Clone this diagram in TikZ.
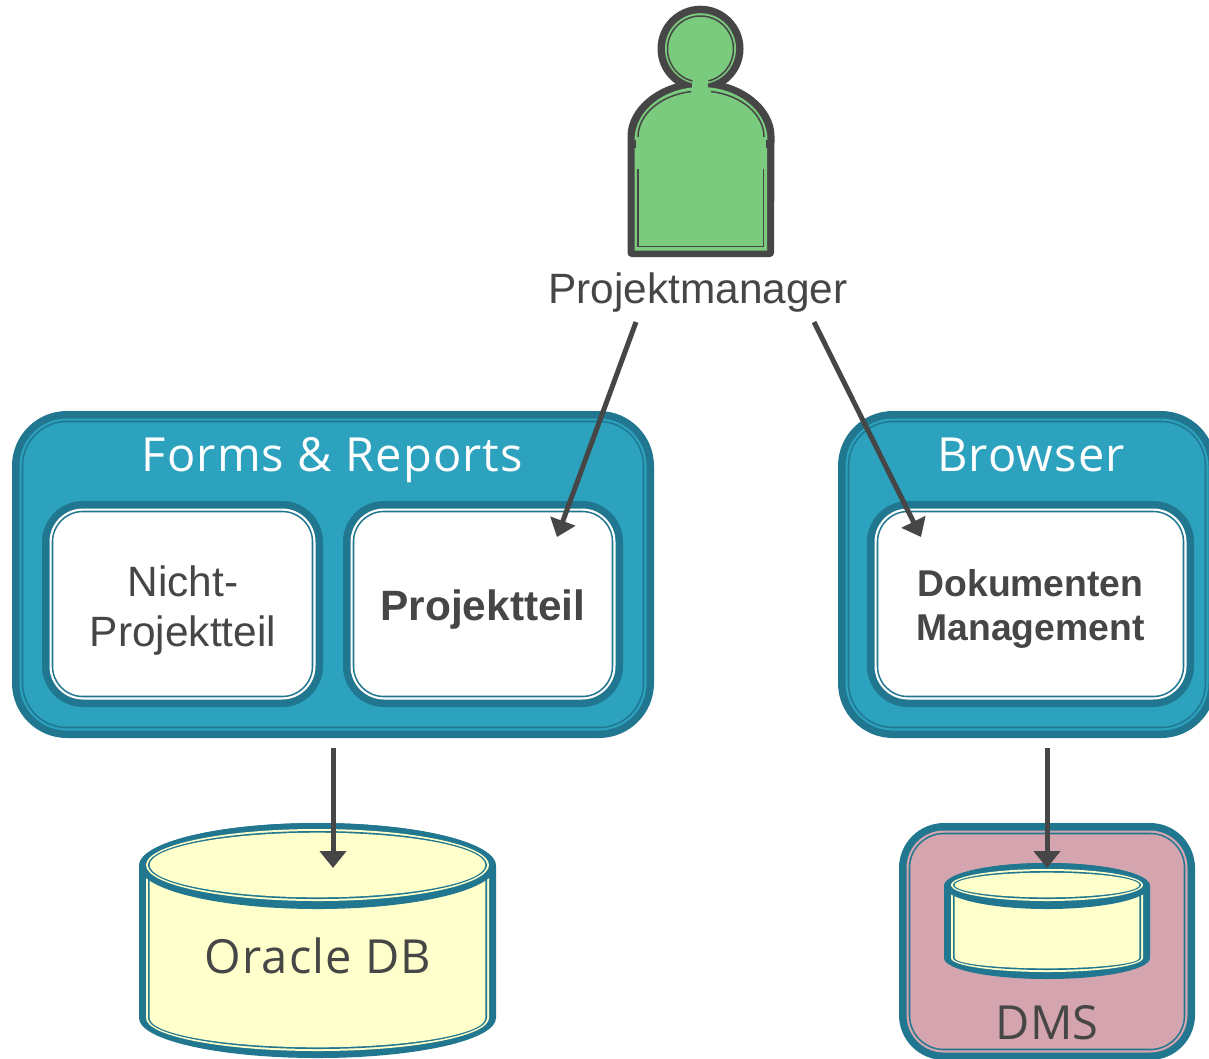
\documentclass[tikz,border=0pt]{standalone}
\usepackage{fontspec}
\setmainfont{Liberation Sans}
\newfontfamily\lucidaish{Open Sans}
\newfontfamily\lucidawide[LetterSpace=2.4]{Open Sans}
\usetikzlibrary{arrows.meta}
\definecolor{tealfill}{HTML}{2CA2BF}
\definecolor{tealdark}{HTML}{20778F}
\definecolor{inkgrey}{HTML}{464646}
\definecolor{persongreen}{HTML}{7ACB7D}
\definecolor{dmspink}{HTML}{D4A5AF}
\definecolor{dbyellow}{HTML}{FFFFCC}
\tikzset{
  conn/.style={draw=inkgrey,line width=5pt,-{Triangle[width=26pt,length=17pt]}},
  arial/.style={text=inkgrey,font=\fontsize{42.4}{50}\selectfont,align=center,inner sep=0pt},
  arialbold/.style={text=inkgrey,font=\fontsize{37.3}{44}\selectfont\bfseries,align=center,inner sep=0pt},
  lucida/.style={font=\lucidaish\fontsize{47}{54}\selectfont,inner sep=0pt,anchor=base},
  lucidawide/.style={font=\lucidawide\fontsize{47}{54}\selectfont,inner sep=0pt,anchor=base},
}
% one inset layer of a rounded box: x1 y1 x2 y2 r inset colour
\newcommand\boxlayer[7]{%
  \pgfmathsetmacro\bxa{#1+#6}\pgfmathsetmacro\bya{#2+#6}%
  \pgfmathsetmacro\bxb{#3-#6}\pgfmathsetmacro\byb{#4-#6}%
  \pgfmathsetmacro\brr{max(#5-#6,1)}%
  \fill[#7,rounded corners=\brr pt] (\bxa,\bya) rectangle (\bxb,\byb);}
\newcommand\layeredbox[8]{% x1 y1 x2 y2 r dark gap fill
  \boxlayer{#1}{#2}{#3}{#4}{#5}{0}{#6}%
  \boxlayer{#1}{#2}{#3}{#4}{#5}{7.5}{#7}%
  \boxlayer{#1}{#2}{#3}{#4}{#5}{9.7}{#6}%
  \boxlayer{#1}{#2}{#3}{#4}{#5}{11.3}{#8}}
% one inset layer of a cylinder: x1 x2 cy ry by bry inset colour
\newcommand\cyllayer[8]{%
  \pgfmathsetmacro\cxa{#1+#7}\pgfmathsetmacro\cxb{#2-#7}%
  \pgfmathsetmacro\crx{(#2-#1)/2-#7}%
  \pgfmathsetmacro\cry{#4-#7}\pgfmathsetmacro\cbry{#6-#7}%
  \fill[#8] (\cxa,#3) -- (\cxa,#5) arc[start angle=180,end angle=360,x radius=\crx pt,y radius=\cbry pt]
     -- (\cxb,#3) arc[start angle=0,end angle=180,x radius=\crx pt,y radius=\cry pt] -- cycle;}
\newcommand\toplayer[6]{% x1 x2 cy ry inset colour
  \pgfmathsetmacro\crx{(#2-#1)/2-#5}%
  \pgfmathsetmacro\cry{#4-#5}%
  \pgfmathsetmacro\ccx{(#2+#1)/2}%
  \fill[#6] (\ccx,#3) ellipse[x radius=\crx pt,y radius=\cry pt];}
\newcommand\cylinder[6]{%
  \cyllayer{#1}{#2}{#3}{#4}{#5}{#6}{0}{tealdark}%
  \cyllayer{#1}{#2}{#3}{#4}{#5}{#6}{7}{dbyellow}%
  \cyllayer{#1}{#2}{#3}{#4}{#5}{#6}{9}{tealdark}%
  \cyllayer{#1}{#2}{#3}{#4}{#5}{#6}{10.7}{dbyellow}%
  \toplayer{#1}{#2}{#3}{#4}{0}{tealdark}%
  \pgfmathsetmacro\cyup{#3-1}%
  \edef\cyupval{\cyup}%
  \toplayer{#1}{#2}{\cyupval}{#4}{7}{dbyellow}%
  \toplayer{#1}{#2}{\cyupval}{#4}{9}{tealdark}%
  \toplayer{#1}{#2}{\cyupval}{#4}{10.7}{dbyellow}}
\begin{document}
\begin{tikzpicture}[x=1pt,y=-1pt]
\useasboundingbox (0,0) rectangle (1209,1058);
\clip (0,0) rectangle (1209,1058);
\fill[white] (0,0) rectangle (1209,1058);
% person
\fill[inkgrey] (700.5,48.7) circle[radius=43pt];
\fill[inkgrey,rounded corners=4pt] (627.5,140) arc[start angle=180,end angle=0,x radius=73.5pt,y radius=60pt] -- (774,257) -- (627.5,257) -- cycle;
\fill[persongreen] (700.5,48.7) circle[radius=35.5pt];
\fill[persongreen] (634.5,148) -- (634.5,140) arc[start angle=180,end angle=0,x radius=66.5pt,y radius=53pt] -- (767,148) -- (767,250.5) -- (634.5,250.5) -- cycle;
\fill[persongreen] (691.5,70) rectangle (708,100);
\draw[inkgrey,line width=1.5pt] (692.5,81) arc[start angle=256,end angle=-76,radius=33pt];
\draw[inkgrey,line width=1.5pt] (638,137) arc[start angle=180,end angle=99,x radius=63pt,y radius=46pt];
\draw[inkgrey,line width=1.5pt] (764,137) arc[start angle=0,end angle=81,x radius=63pt,y radius=46pt];
\draw[inkgrey,line width=1.5pt] (638,169) -- (638,246.5) -- (763.5,246.5) -- (763.5,169);
\fill[inkgrey] (629,140) rectangle (636,148);
\fill[inkgrey] (766,140) rectangle (773,148);
\node[arial] (pm) at (698,293) {Projektmanager};
% Forms & Reports
\layeredbox{12}{411}{654}{738}{55}{tealdark}{tealfill}{tealfill}
\layeredbox{42}{501}{323}{707}{41}{tealdark}{white}{white}
\layeredbox{343}{501}{623}{707}{41}{tealdark}{white}{white}
\node[lucidawide,text=white] (forms) at (332.5,471) {Forms \& Reports};
\node[arial] (nicht) at (183,610.5) {Nicht-\\Projektteil};
\node[arial,font=\fontsize{42.4}{50}\selectfont\bfseries] (projekt) at (483,610) {Projektteil};
% Browser
\layeredbox{838}{411}{1216}{738}{55}{tealdark}{tealfill}{tealfill}
\layeredbox{867}{501}{1194}{707}{41}{tealdark}{white}{white}
\node[lucidawide,text=white] (browser) at (1031,471) {Browser};
\node[arialbold] (dokm) at (1030.5,609) {Dokumenten\\Management};
% Oracle DB
\cylinder{139}{496}{866}{43}{1018}{40}
\node[lucidawide,text=inkgrey] (oracle) at (318,973) {Oracle DB};
% DMS
\layeredbox{899}{823}{1195}{1060}{45}{tealdark}{dmspink}{dmspink}
\cylinder{944}{1150}{886}{23}{958}{21}
\node[lucida,text=inkgrey] (dms) at (1047,1039) {DMS};
% connectors
\coordinate (pmL) at (636,322);
\coordinate (pmR) at (814,322);
\coordinate (projIn) at (557,537);
\coordinate (dokIn) at (921,537);
\coordinate (formsOut) at (333,748);
\coordinate (oracleIn) at (333,868);
\coordinate (browserOut) at (1047,748);
\coordinate (dmsIn) at (1047,868);
\draw[conn] (pmL) -- (projIn);
\draw[conn] (pmR) -- (dokIn);
\draw[conn] (formsOut) -- (oracleIn);
\draw[conn] (browserOut) -- (dmsIn);
\end{tikzpicture}
\end{document}
